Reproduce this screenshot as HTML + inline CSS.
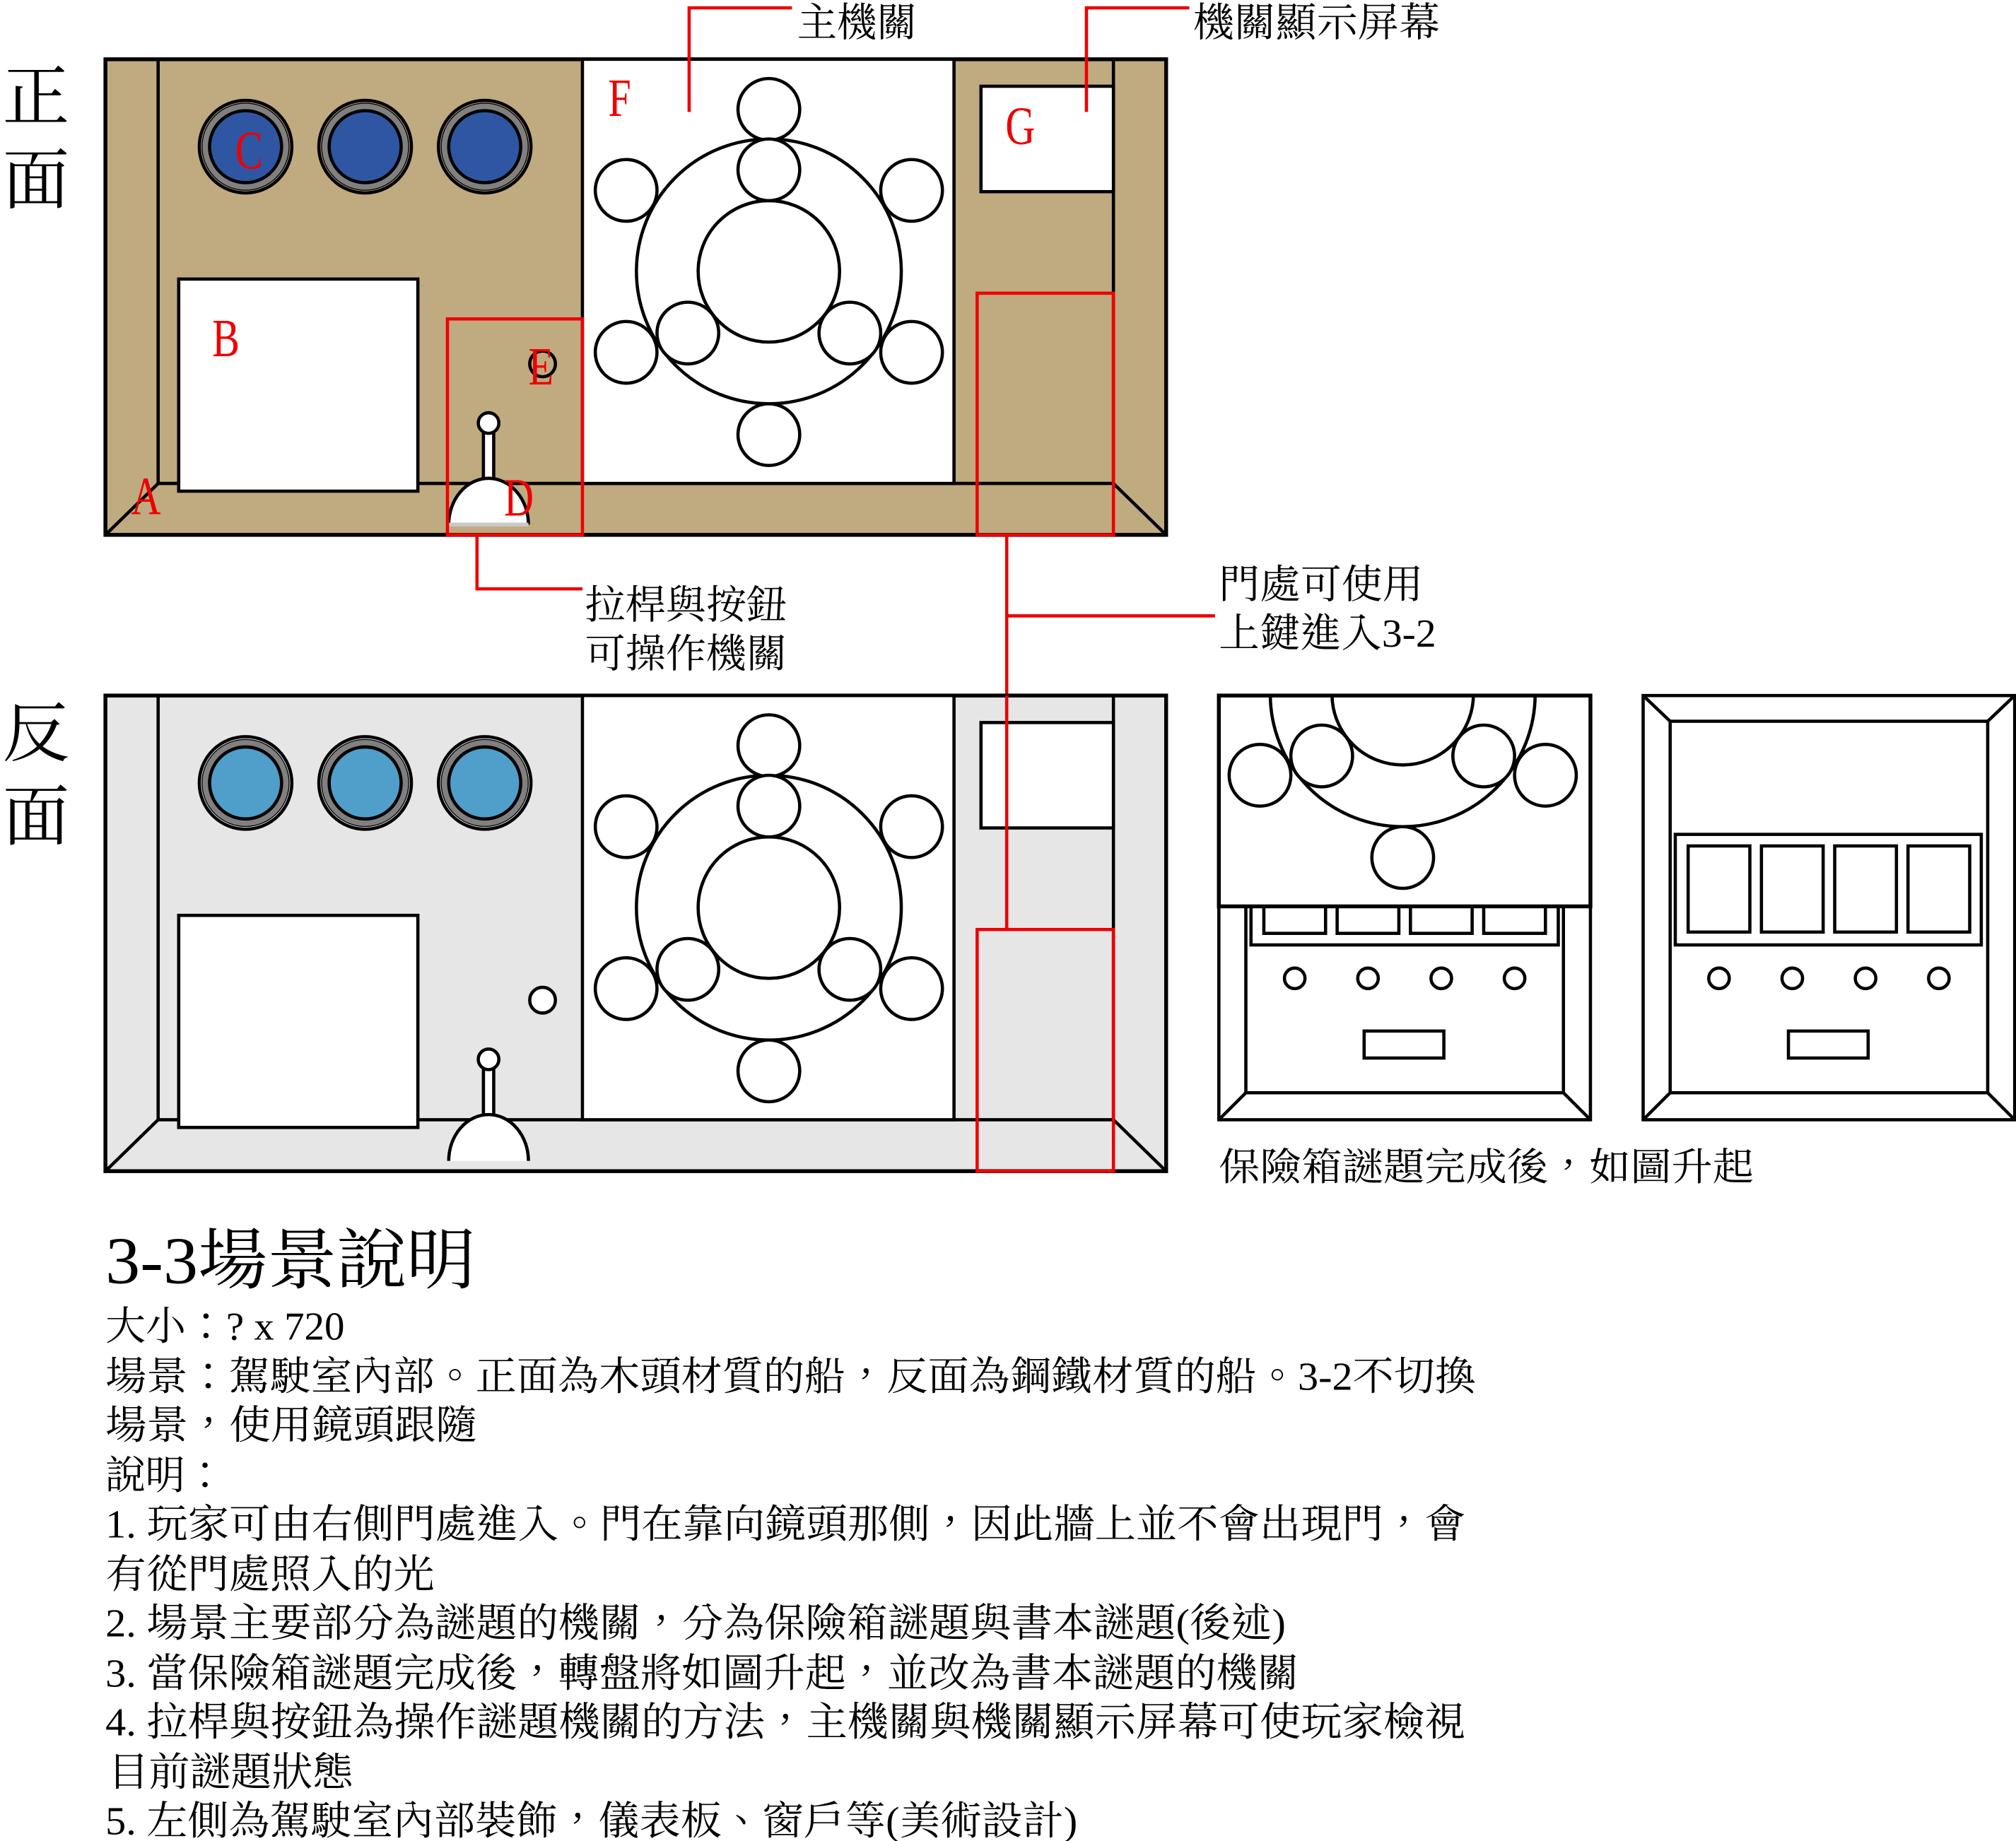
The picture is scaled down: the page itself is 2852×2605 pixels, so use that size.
<!DOCTYPE html>
<html><head><meta charset="utf-8"><style>
html,body{margin:0;padding:0;background:#fff;}
svg{display:block;}
text{font-family:"Liberation Serif","Noto Serif CJK TC","Noto Sans CJK TC",serif;}
</style></head><body>
<svg width="2852" height="2605" viewBox="0 0 1568 1432" xmlns="http://www.w3.org/2000/svg">
<defs>
<g id="mech" fill="#fff" stroke="#000" stroke-width="2.5">
  <circle cx="598" cy="211" r="103"/>
  <circle cx="598" cy="211" r="55"/>
  <circle cx="598" cy="85" r="24"/>
  <circle cx="598" cy="132" r="24"/>
  <circle cx="487" cy="148" r="24"/>
  <circle cx="709" cy="148" r="24"/>
  <circle cx="535" cy="259" r="24"/>
  <circle cx="661" cy="259" r="24"/>
  <circle cx="487" cy="274" r="24"/>
  <circle cx="709" cy="274" r="24"/>
  <circle cx="598" cy="338" r="24"/>
</g>
<clipPath id="cp"><rect x="948" y="541" width="289" height="164"/></clipPath>
</defs>

<!-- FRONT -->
<g stroke="#000" stroke-width="2.5">
<rect x="82" y="46" width="825" height="370" fill="#c0aa80" stroke-width="3"/>
<line x1="123" y1="46" x2="123" y2="376"/>
<line x1="866" y1="46" x2="866" y2="376"/>
<line x1="123" y1="376" x2="866" y2="376"/>
<line x1="82" y1="416" x2="123" y2="376"/>
<line x1="907" y1="416" x2="866" y2="376"/>
<rect x="453" y="46" width="289" height="330" fill="#fff"/>
<rect x="139" y="217" width="186" height="165" fill="#fff"/>
<rect x="763" y="67" width="103" height="82" fill="#fff"/>
<g fill="#2e56a3"><circle cx="191" cy="114" r="33" stroke="#000" stroke-width="2.5"/><circle cx="284" cy="114" r="33"/><circle cx="377" cy="114" r="33"/></g>
<g fill="none" stroke="#808080" stroke-width="5"><circle cx="191" cy="114" r="31"/><circle cx="284" cy="114" r="31"/><circle cx="377" cy="114" r="31"/></g>
<g fill="none"><circle cx="191" cy="114" r="36"/><circle cx="284" cy="114" r="36"/><circle cx="377" cy="114" r="36"/><circle cx="191" cy="114" r="28"/><circle cx="284" cy="114" r="28"/><circle cx="377" cy="114" r="28"/></g>
<circle cx="422" cy="283" r="10" fill="none"/>
<rect x="376" y="335" width="8" height="38" fill="#fff"/>
<circle cx="380" cy="329" r="8" fill="#fff"/>
<path d="M349 408 A31 36 0 0 1 411 408" fill="#fff"/>
<line x1="349" y1="408" x2="411" y2="408" stroke="#c8c8c8" stroke-width="3"/>
</g>
<use href="#mech"/>
<g fill="none" stroke="#e00" stroke-width="2.5">
<rect x="348" y="248" width="105" height="168"/>
<rect x="760" y="228" width="106" height="188"/>
<polyline points="536,87 536,6 616,6"/>
<polyline points="845,87 845,6 925,6"/>
<polyline points="371,416 371,458 453,458"/>
<line x1="783" y1="416" x2="783" y2="723"/>
<line x1="783" y1="479" x2="945" y2="479"/>
</g>
<g fill="#e00" font-size="40">
<text transform="translate(473,90) scale(0.8,1.05)">F</text>
<text transform="translate(782,112) scale(0.8,1.05)">G</text>
<text transform="translate(183,131) scale(0.8,1.05)">C</text>
<text transform="translate(165,277) scale(0.8,1.05)">B</text>
<text transform="translate(411,299) scale(0.8,1.05)">E</text>
<text transform="translate(392,401) scale(0.8,1.05)">D</text>
<text transform="translate(102,400) scale(0.8,1.05)">A</text>
</g>

<!-- BACK -->
<g stroke="#000" stroke-width="2.5">
<rect x="82" y="541" width="825" height="370" fill="#e6e6e6" stroke-width="3"/>
<line x1="123" y1="541" x2="123" y2="871"/>
<line x1="866" y1="541" x2="866" y2="871"/>
<line x1="123" y1="871" x2="866" y2="871"/>
<line x1="82" y1="911" x2="123" y2="871"/>
<line x1="907" y1="911" x2="866" y2="871"/>
<rect x="453" y="541" width="289" height="330" fill="#fff"/>
<rect x="139" y="712" width="186" height="165" fill="#fff"/>
<rect x="763" y="562" width="103" height="82" fill="#fff"/>
<g fill="#4f9fca"><circle cx="191" cy="609" r="33"/><circle cx="284" cy="609" r="33"/><circle cx="377" cy="609" r="33"/></g>
<g fill="none" stroke="#808080" stroke-width="5"><circle cx="191" cy="609" r="31"/><circle cx="284" cy="609" r="31"/><circle cx="377" cy="609" r="31"/></g>
<g fill="none"><circle cx="191" cy="609" r="36"/><circle cx="284" cy="609" r="36"/><circle cx="377" cy="609" r="36"/><circle cx="191" cy="609" r="28"/><circle cx="284" cy="609" r="28"/><circle cx="377" cy="609" r="28"/></g>
<circle cx="422" cy="778" r="10" fill="#fff"/>
<rect x="376" y="830" width="8" height="38" fill="#fff"/>
<circle cx="380" cy="824" r="8" fill="#fff"/>
<path d="M349 903 A31 36 0 0 1 411 903" fill="#fff"/>
</g>
<use href="#mech" transform="translate(0,495)"/>
<g fill="none" stroke="#e00" stroke-width="2.5">
<rect x="760" y="723" width="106" height="188"/>
<line x1="783" y1="541" x2="783" y2="723"/>
</g>

<!-- SAFE BOX 1 -->
<g stroke="#000" stroke-width="2.5" fill="#fff">
<rect x="948" y="541" width="289" height="330"/>
<rect x="969" y="700" width="247" height="150"/>
<line x1="948" y1="871" x2="969" y2="850"/>
<line x1="1237" y1="871" x2="1216" y2="850"/>
<rect x="973" y="700" width="239" height="35"/>
<rect x="983" y="700" width="48" height="26"/><rect x="1040" y="700" width="48" height="26"/><rect x="1097" y="700" width="48" height="26"/><rect x="1154" y="700" width="48" height="26"/>
<circle cx="1007" cy="761" r="8"/><circle cx="1064" cy="761" r="8"/><circle cx="1121" cy="761" r="8"/><circle cx="1178" cy="761" r="8"/>
<rect x="1061" y="802" width="62" height="21"/>
<rect x="948" y="541" width="289" height="164"/>
</g>
<g clip-path="url(#cp)"><use href="#mech" transform="translate(493,329)"/></g>
<rect x="948" y="541" width="289" height="164" fill="none" stroke="#000" stroke-width="3"/>

<!-- SAFE BOX 2 -->
<g stroke="#000" stroke-width="2.5" fill="#fff">
<rect x="1278" y="541" width="289" height="330"/>
<rect x="1299" y="561" width="247" height="289"/>
<line x1="1278" y1="541" x2="1299" y2="561"/>
<line x1="1567" y1="541" x2="1546" y2="561"/>
<line x1="1278" y1="871" x2="1299" y2="850"/>
<line x1="1567" y1="871" x2="1546" y2="850"/>
<rect x="1303" y="649" width="238" height="86"/>
<rect x="1313" y="658" width="48" height="67"/><rect x="1370" y="658" width="48" height="67"/><rect x="1427" y="658" width="48" height="67"/><rect x="1484" y="658" width="48" height="67"/>
<circle cx="1337" cy="761" r="8"/><circle cx="1394" cy="761" r="8"/><circle cx="1451" cy="761" r="8"/><circle cx="1508" cy="761" r="8"/>
<rect x="1391" y="802" width="62" height="21"/>
</g>

<!-- LABELS -->
<g fill="#000">
<text x="2" y="93" font-size="52">正</text>
<text x="2" y="158" font-size="52">面</text>
<text x="2" y="588" font-size="52">反</text>
<text x="2" y="653" font-size="52">面</text>
<text x="620" y="28" font-size="31" textLength="93" lengthAdjust="spacingAndGlyphs">主機關</text>
<text x="928" y="28" font-size="31" textLength="192" lengthAdjust="spacingAndGlyphs">機關顯示屏幕</text>
<text x="455" y="481" font-size="31" textLength="157" lengthAdjust="spacingAndGlyphs">拉桿與按鈕</text>
<text x="455" y="519" font-size="31" textLength="157" lengthAdjust="spacingAndGlyphs">可操作機關</text>
<text x="948" y="465" font-size="31" textLength="159" lengthAdjust="spacingAndGlyphs">門處可使用</text>
<text x="948" y="503" font-size="31" textLength="169" lengthAdjust="spacingAndGlyphs">上鍵進入3-2</text>
<text x="948" y="918" font-size="30" textLength="416" lengthAdjust="spacingAndGlyphs">保險箱謎題完成後，如圖升起</text>
<text x="82" y="998" font-size="52" textLength="288" lengthAdjust="spacingAndGlyphs">3-3場景說明</text>
<g font-size="31">
<text x="82" y="1042" textLength="186" lengthAdjust="spacingAndGlyphs">大小：? x 720</text>
<text x="82" y="1081" textLength="1066" lengthAdjust="spacingAndGlyphs">場景：駕駛室內部。正面為木頭材質的船，反面為鋼鐵材質的船。3-2不切換</text>
<text x="82" y="1119" textLength="289" lengthAdjust="spacingAndGlyphs">場景，使用鏡頭跟隨</text>
<text x="82" y="1158">說明：</text>
<text x="82" y="1196" textLength="1058" lengthAdjust="spacingAndGlyphs">1. 玩家可由右側門處進入。門在靠向鏡頭那側，因此牆上並不會出現門，會</text>
<text x="82" y="1235" textLength="256" lengthAdjust="spacingAndGlyphs">有從門處照入的光</text>
<text x="82" y="1273" textLength="918" lengthAdjust="spacingAndGlyphs">2. 場景主要部分為謎題的機關，分為保險箱謎題與書本謎題(後述)</text>
<text x="82" y="1312" textLength="928" lengthAdjust="spacingAndGlyphs">3. 當保險箱謎題完成後，轉盤將如圖升起，並改為書本謎題的機關</text>
<text x="82" y="1350" textLength="1058" lengthAdjust="spacingAndGlyphs">4. 拉桿與按鈕為操作謎題機關的方法，主機關與機關顯示屏幕可使玩家檢視</text>
<text x="84" y="1389" textLength="191" lengthAdjust="spacingAndGlyphs">目前謎題狀態</text>
<text x="82" y="1427" textLength="756" lengthAdjust="spacingAndGlyphs">5. 左側為駕駛室內部裝飾，儀表板、窗戶等(美術設計)</text>
</g>
</g>
</svg>
</body></html>
